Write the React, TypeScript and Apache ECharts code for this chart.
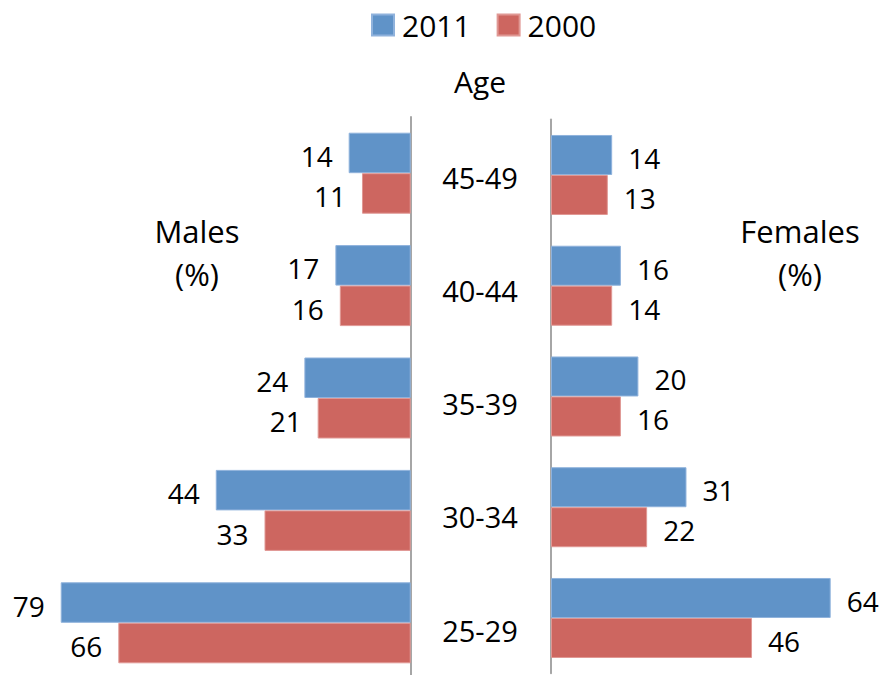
import React, { useEffect, useRef } from "react";
import * as echarts from "echarts";

const ageGroups = ["45-49", "40-44", "35-39", "30-34", "25-29"];
const males2011 = [14, 17, 24, 44, 79];
const males2000 = [11, 16, 21, 33, 66];
const females2011 = [14, 16, 20, 31, 64];
const females2000 = [13, 14, 16, 22, 46];
const seriesNames = ["2011", "2000"];

const BLUE = "#6093C8";
const RED = "#CD6660";
const FONT = "Open Sans";

export default function App() {
  const ref = useRef<HTMLDivElement>(null);
  useEffect(() => {
    if (!ref.current) return;
    const chart = echarts.init(ref.current, undefined, { renderer: "svg" });
    const labelStyle = { fontSize: 28, color: "#000", fontFamily: FONT, offset: [0, 3] };
    const axisLine = { show: true, onZero: false, lineStyle: { color: "#A6A6A6", width: 2 } };
    const option: any = {
      animation: false,
      backgroundColor: "#fff",
      textStyle: { fontFamily: FONT },
      legend: {
        data: seriesNames,
        left: 366,
        top: 5,
        itemWidth: 22,
        itemHeight: 21,
        itemGap: 26,
        icon: "rect",
        textStyle: { fontSize: 30, color: "#000", fontFamily: FONT, padding: [0, 0, 0, 3] },
      },
      grid: [
        { left: 56.3, width: 354.4, top: 117, height: 562 },
        { left: 551, width: 305.9, top: 119.6, height: 553.75 },
        { left: 480, width: 1, top: 120.4, height: 566.25 },
      ],
      xAxis: [
        { gridIndex: 0, type: "value", min: 0, max: 80, inverse: true, show: false },
        { gridIndex: 1, type: "value", min: 0, max: 70, show: false },
        { gridIndex: 2, type: "value", min: 0, max: 1, show: false },
      ],
      yAxis: [
        {
          gridIndex: 0, type: "category", data: ageGroups, inverse: true, position: "right",
          axisLine, axisTick: { show: false }, axisLabel: { show: false }, splitLine: { show: false },
        },
        {
          gridIndex: 1, type: "category", data: ageGroups, inverse: true, position: "left",
          axisLine, axisTick: { show: false }, axisLabel: { show: false }, splitLine: { show: false },
        },
        {
          gridIndex: 2, type: "category", data: ageGroups, inverse: true, position: "left",
          axisLine: { show: false }, axisTick: { show: false }, splitLine: { show: false },
          axisLabel: { show: true, align: "center", margin: 0, fontSize: 29, color: "#000", fontFamily: FONT },
        },
      ],
      series: [
        {
          name: "2011", type: "bar", xAxisIndex: 0, yAxisIndex: 0, data: males2011,
          barWidth: 40.5, barGap: "0%",
          itemStyle: { color: BLUE, borderColor: "#8FB2DC", borderWidth: 1 },
          label: { show: true, position: "left", distance: 16, ...labelStyle },
        },
        {
          name: "2000", type: "bar", xAxisIndex: 0, yAxisIndex: 0, data: males2000,
          barWidth: 40.5, barGap: "0%",
          itemStyle: { color: RED, borderColor: "#E09894", borderWidth: 1 },
          label: { show: true, position: "left", distance: 16, ...labelStyle },
        },
        {
          name: "2011", type: "bar", xAxisIndex: 1, yAxisIndex: 1, data: females2011,
          barWidth: 40, barGap: "0%",
          itemStyle: { color: BLUE, borderColor: "#8FB2DC", borderWidth: 1 },
          label: { show: true, position: "right", distance: 16, ...labelStyle },
        },
        {
          name: "2000", type: "bar", xAxisIndex: 1, yAxisIndex: 1, data: females2000,
          barWidth: 40, barGap: "0%",
          itemStyle: { color: RED, borderColor: "#E09894", borderWidth: 1 },
          label: { show: true, position: "right", distance: 16, ...labelStyle },
        },
      ],
      graphic: [
        {
          type: "text", x: 480, y: 81,
          style: { text: "Age", fontSize: 30, fill: "#000", fontFamily: FONT, align: "center", verticalAlign: "middle" },
        },
        {
          type: "text", x: 197, y: 252,
          style: { text: "Males\n(%)", fontSize: 31, lineHeight: 43, fill: "#000", fontFamily: FONT, align: "center", verticalAlign: "middle" },
        },
        {
          type: "text", x: 800, y: 252,
          style: { text: "Females\n(%)", fontSize: 31, lineHeight: 43, fill: "#000", fontFamily: FONT, align: "center", verticalAlign: "middle" },
        },
      ],
    };
    chart.setOption(option);
    return () => chart.dispose();
  }, []);
  return (
    <div
      ref={ref}
      style={{ position: "fixed", left: 0, top: 0, width: 883, height: 700, background: "#fff" }}
    />
  );
}
